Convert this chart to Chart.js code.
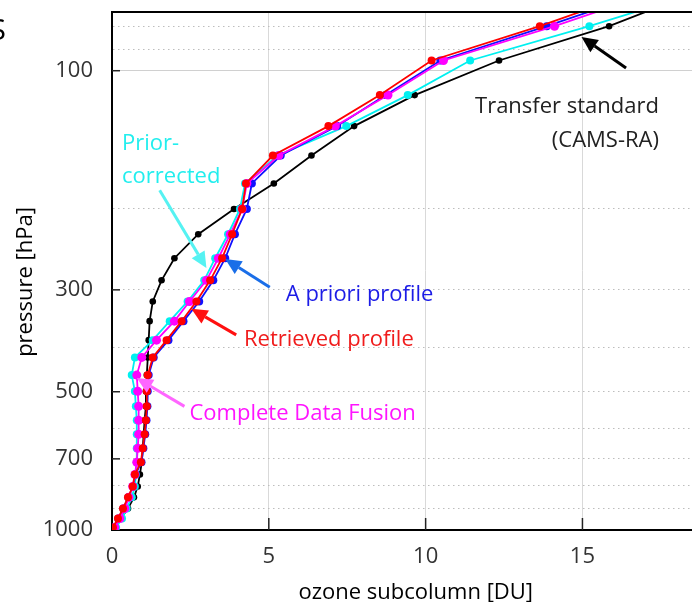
<!DOCTYPE html>
<html>
<head>
<meta charset="utf-8">
<title>Ozone profiles</title>
<script src="https://cdn.jsdelivr.net/npm/chart.js@4.4.0/dist/chart.umd.min.js"></script>
<style>
  html, body { margin: 0; padding: 0; background: #fff; overflow: hidden; }
  #wrap { width: 724px; height: 602px; }
</style>
</head>
<body>
<div id="wrap"><canvas id="ozoneChart" width="724" height="602"></canvas></div>
<script>
// pressure levels [hPa], shared by all profiles
const pressure = [73, 80, 95, 113, 132, 153, 176, 200, 227, 256, 286, 318, 351, 386, 421, 460, 499, 538, 577, 619, 664, 712, 757, 804, 849, 898, 944, 987]

// ozone subcolumns [DU]
const retrieved = [15.28, 13.64, 10.19, 8.54, 6.90, 5.13, 4.27, 4.15, 3.83, 3.51, 3.13, 2.69, 2.22, 1.74, 1.30, 1.14, 1.11, 1.11, 1.08, 1.04, 0.98, 0.92, 0.73, 0.66, 0.51, 0.35, 0.19, 0.03]
const fusion = [15.82, 14.11, 10.57, 8.80, 7.12, 5.32, 4.30, 4.15, 3.77, 3.39, 3.01, 2.47, 1.99, 1.42, 0.95, 0.79, 0.82, 0.85, 0.85, 0.85, 0.82, 0.79, 0.73, 0.66, 0.54, 0.41, 0.25, 0.09]
const aPriori = [15.57, 13.86, 10.47, 8.73, 7.18, 5.38, 4.46, 4.30, 3.92, 3.61, 3.23, 2.78, 2.28, 1.80, 1.33, 1.17, 1.14, 1.13, 1.10, 1.06, 1.00, 0.94, 0.75, 0.67, 0.52, 0.36, 0.20, 0.04]
const priorCorrected = [17.09, 15.22, 11.42, 9.43, 7.47, 5.28, 4.24, 4.08, 3.70, 3.29, 2.94, 2.41, 1.84, 1.30, 0.73, 0.63, 0.73, 0.76, 0.79, 0.79, 0.79, 0.79, 0.76, 0.73, 0.63, 0.47, 0.32, 0.13]
const transferStd = [17.34, 15.85, 12.34, 9.65, 7.72, 6.36, 5.16, 3.89, 2.75, 1.99, 1.58, 1.30, 1.20, 1.17, 1.14, 1.11, 1.08, 1.08, 1.04, 1.01, 0.98, 0.95, 0.89, 0.82, 0.70, 0.51, 0.28, 0.09]

// axes
const xTicks = [0, 5, 10, 15]
const yGrid = [80, 90, 100, 200, 300, 400, 500, 600, 700, 800, 900, 1000]
const yLabels = [100, 300, 500, 700, 1000]

const FONT = '"Open Sans", "DejaVu Sans", sans-serif'

const toPoints = (vals) => vals.map((v, i) => ({ x: v, y: pressure[i] }))

function profile(label, vals, color, radius) {
  return {
    label: label,
    data: toPoints(vals),
    showLine: true,
    borderColor: color,
    backgroundColor: color,
    borderWidth: 1.8,
    pointRadius: radius,
    pointBackgroundColor: color,
    pointBorderWidth: 0,
    tension: 0,
  }
}

// labels + arrows, anchored in data coordinates
const labels = [
  { text: "Prior-", x: 0.32, p: 144, align: "left", color: "#22eeee" },
  { text: "corrected", x: 0.32, p: 170, align: "left", color: "#22eeee" },
  { text: "A priori profile", x: 5.54, p: 308, align: "left", color: "#1c1ce6" },
  { text: "Retrieved profile", x: 4.21, p: 386, align: "left", color: "#f01c1c" },
  { text: "Complete Data Fusion", x: 2.47, p: 557, align: "left", color: "#ff14ff" },
  { text: "Transfer standard", x: 17.44, p: 120, align: "right", color: "#222222" },
  { text: "(CAMS-RA)", x: 17.44, p: 142, align: "right", color: "#222222" },
]
const arrows = [
  { from: [1.52, 182], to: [3.01, 269], color: "#55f2f2" },
  { from: [5.03, 296], to: [3.61, 257], color: "#1a6ee8" },
  { from: [3.96, 376], to: [2.53, 330], color: "#ff1010" },
  { from: [2.31, 538], to: [0.79, 467], color: "#ff66ff" },
  { from: [16.39, 98.6], to: [14.97, 84.4], color: "#000000" },
]

function drawArrow(ctx, x1, y1, x2, y2, color) {
  const ang = Math.atan2(y2 - y1, x2 - x1)
  const head = 16
  const half = 7.5
  const bx = x2 - head * Math.cos(ang)
  const by = y2 - head * Math.sin(ang)
  ctx.strokeStyle = color
  ctx.fillStyle = color
  ctx.lineWidth = 3
  ctx.beginPath()
  ctx.moveTo(x1, y1)
  ctx.lineTo(bx, by)
  ctx.stroke()
  ctx.beginPath()
  ctx.moveTo(x2, y2)
  ctx.lineTo(bx + half * Math.sin(ang), by - half * Math.cos(ang))
  ctx.lineTo(bx - half * Math.sin(ang), by + half * Math.cos(ang))
  ctx.closePath()
  ctx.fill()
}

const decorPlugin = {
  id: "decor",
  afterDraw(chart) {
    const { ctx, chartArea } = chart
    const xs = chart.scales.x
    const ys = chart.scales.y
    ctx.save()

    // frame on top
    ctx.strokeStyle = "#000"
    ctx.lineWidth = 2
    ctx.beginPath()
    ctx.moveTo(chartArea.left - 1, chartArea.top)
    ctx.lineTo(chartArea.right, chartArea.top)
    ctx.stroke()

    // inward tick marks
    ctx.lineWidth = 1.5
    ctx.strokeStyle = "#222"
    xTicks.slice(1).forEach((v) => {
      const px = xs.getPixelForValue(v)
      ctx.beginPath()
      ctx.moveTo(px, chartArea.bottom)
      ctx.lineTo(px, chartArea.bottom - 12)
      ctx.stroke()
    })
    yLabels.slice(0, -1).forEach((v) => {
      const py = ys.getPixelForValue(v)
      ctx.beginPath()
      ctx.moveTo(chartArea.left, py)
      ctx.lineTo(chartArea.left + 8, py)
      ctx.stroke()
    })

    // annotations
    arrows.forEach((a) => {
      drawArrow(ctx, xs.getPixelForValue(a.from[0]), ys.getPixelForValue(a.from[1]),
        xs.getPixelForValue(a.to[0]), ys.getPixelForValue(a.to[1]), a.color)
    })
    ctx.font = "22px " + FONT
    ctx.textBaseline = "middle"
    labels.forEach((l) => {
      ctx.fillStyle = l.color
      ctx.textAlign = l.align
      ctx.fillText(l.text, xs.getPixelForValue(l.x), ys.getPixelForValue(l.p))
    })

    // axis titles
    ctx.fillStyle = "#000"
    ctx.textAlign = "center"
    ctx.textBaseline = "alphabetic"
    ctx.fillText("ozone subcolumn [DU]", (chartArea.left + chartArea.right) / 2, 599)
    ctx.save()
    ctx.translate(26, 282)
    ctx.rotate(-Math.PI / 2)
    ctx.textBaseline = "middle"
    ctx.fillText("pressure [hPa]", 0, 0)
    ctx.restore()

    // clipped letter of the neighbouring panel
    ctx.font = "30px " + FONT
    ctx.textAlign = "right"
    ctx.textBaseline = "alphabetic"
    ctx.fillText("S", 6, 40)

    ctx.restore()
  },
}

new Chart(document.getElementById("ozoneChart"), {
  type: "scatter",
  data: {
    datasets: [
      profile("Retrieved profile", retrieved, "#ff0000", 4),
      profile("Complete Data Fusion", fusion, "#ff00ff", 4.5),
      profile("A priori profile", aPriori, "#1010ff", 4),
      profile("Prior-corrected", priorCorrected, "#00f0f0", 4),
      profile("Transfer standard (CAMS-RA)", transferStd, "#000000", 3.3),
    ],
  },
  options: {
    responsive: false,
    animation: false,
    layout: { padding: { top: 12, left: 0, right: 0, bottom: 0 } },
    plugins: {
      legend: { display: false },
      tooltip: { enabled: false },
    },
    scales: {
      x: {
        type: "linear",
        min: 0,
        max: 19.37,
        afterBuildTicks: (scale) => {
          scale.ticks = xTicks.map((v) => ({ value: v }))
        },
        afterFit: (scale) => {
          scale.height = 72
        },
        grid: { color: "#d9d9d9", lineWidth: 1, drawTicks: false },
        border: { color: "#000", width: 2 },
        ticks: {
          padding: 14,
          color: "#333",
          font: { family: FONT, size: 22 },
          callback: (v) => String(v),
        },
      },
      y: {
        type: "logarithmic",
        reverse: true,
        min: 74.5,
        max: 1000,
        afterBuildTicks: (scale) => {
          scale.ticks = yGrid.map((v) => ({ value: v }))
        },
        afterFit: (scale) => {
          scale.width = 112
          scale.paddingTop = 0
          scale.paddingBottom = 0
        },
        grid: {
          color: (c) => (c.tick && c.tick.value === 100 ? "#d0d0d0" : "#bdbdbd"),
          lineWidth: 1,
          drawTicks: false,
        },
        border: {
          color: "#000",
          width: 2,
          dash: (c) => (c.tick && c.tick.value !== 100 ? [1.5, 3.5] : []),
        },
        ticks: {
          autoSkip: false,
          padding: 19,
          color: "#333",
          font: { family: FONT, size: 22 },
          callback: (v) => (yLabels.includes(v) ? String(v) : ""),
        },
      },
    },
  },
  plugins: [decorPlugin],
})
</script>
</body>
</html>
